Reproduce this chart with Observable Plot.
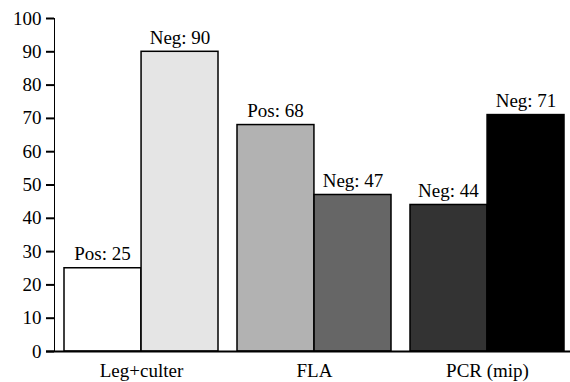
<!DOCTYPE html>
<html><head><meta charset="utf-8">
<script src="https://cdn.jsdelivr.net/npm/d3@7"></script>
<script src="https://cdn.jsdelivr.net/npm/@observablehq/plot@0.6"></script>
<style>
body{margin:0;background:#fff}
#chart svg, #chart svg text, #chart svg g{font-family:"Liberation Serif","Times New Roman",serif !important;}
#chart svg g[aria-label="y-axis tick"]{stroke-width:2px}
</style>
</head><body><div id="chart"></div>
<script>
const groups = ["Leg+culter", "FLA", "PCR (mip)"];
const firstKinds = ["Pos", "Pos", "Neg"];
const firstValues = [25, 68, 44];
const secondKinds = ["Neg", "Neg", "Neg"];
const secondValues = [90, 47, 71];
const yTicks = [0, 10, 20, 30, 40, 50, 60, 70, 80, 90, 100];
const barColors = ["#ffffff", "#e5e5e5", "#b2b2b2", "#666666", "#333333", "#000000"];

const first = groups.map((g, i) => ({group: g, kind: firstKinds[i], value: firstValues[i], key: i + "a"}));
const second = groups.map((g, i) => ({group: g, kind: secondKinds[i], value: secondValues[i], key: i + "b"}));
const keys = groups.flatMap((g, i) => [i + "a", i + "b"]);

const W = 570, H = 382, ML = 54, MR = -4, MT = 18, MB = 31;
const PI = 0.112, PO = 0.054;
const band = d3.scaleBand().domain(groups).range([ML, W - MR]).paddingInner(PI).paddingOuter(PO);
const half = band.bandwidth() / 2;

const chart = Plot.plot({
  width: W, height: H,
  marginLeft: ML, marginRight: MR, marginTop: MT, marginBottom: MB,
  style: {fontSize: "19px", fontFamily: "'Liberation Serif', 'Times New Roman', serif", color: "#000", background: "#fff"},
  x: {domain: groups, paddingInner: PI, paddingOuter: PO, tickSize: 0, tickPadding: 12, label: null},
  y: {domain: [0, 100], ticks: yTicks, tickSize: 8, tickPadding: 5, label: null, line: true},
  color: {domain: keys, range: barColors},
  marks: [
    Plot.barY(first, {x: "group", y: "value", fill: "key", stroke: "#000", strokeWidth: 1.5, insetRight: half}),
    Plot.barY(second, {x: "group", y: "value", fill: "key", stroke: "#000", strokeWidth: 1.5, insetLeft: half}),
    Plot.ruleY([0], {stroke: "#000", strokeWidth: 2, insetLeft: -8}),
    Plot.text(first, {x: "group", y: "value", text: d => `${d.kind}: ${d.value}`, dx: -half / 2 - 0.5, dy: -8, lineAnchor: "bottom", fill: "#000"}),
    Plot.text(second, {x: "group", y: "value", text: d => `${d.kind}: ${d.value}`, dx: half / 2, dy: -8, lineAnchor: "bottom", fill: "#000"})
  ]
});
document.getElementById("chart").appendChild(chart);
</script>
</body></html>
